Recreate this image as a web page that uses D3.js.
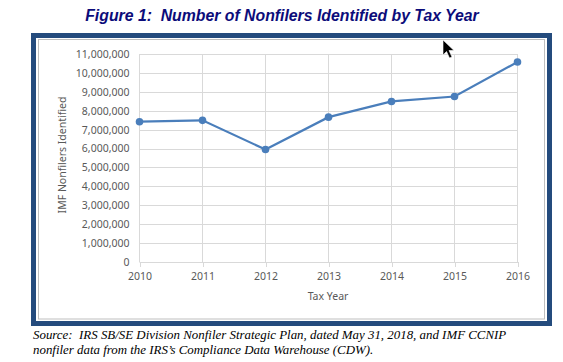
<!DOCTYPE html>
<html>
<head>
<meta charset="utf-8">
<script src="https://cdn.jsdelivr.net/npm/d3@7"></script>
<style>
  html, body { margin: 0; padding: 0; background: #fff; }
  svg { display: block; }
  text { white-space: pre; }
</style>
</head>
<body>
<svg id="chart" width="563" height="362"></svg>
<script>
// data
var years = [2010, 2011, 2012, 2013, 2014, 2015, 2016];
var nonfilers = [7420000, 7490000, 5950000, 7660000, 8490000, 8750000, 10580000];
var yTicks = [0, 1000000, 2000000, 3000000, 4000000, 5000000, 6000000,
              7000000, 8000000, 9000000, 10000000, 11000000];

var svg = d3.select('#chart');
var font = '"Noto Sans", "Open Sans", sans-serif';
var lineBlue = '#4a7ebb', grid = '#d9d9d9', txt = '#595959';

// title
svg.append('text').attr('x', 282).attr('y', 21).attr('text-anchor', 'middle')
  .style('font-family', '"Liberation Sans", Arial, sans-serif')
  .style('font-weight', 'bold').style('font-style', 'italic')
  .style('font-size', '15.8px').attr('fill', '#0c0c7a')
  .text('Figure 1:  Number of Nonfilers Identified by Tax Year');

// frame: thick blue border + thin grey inner line
svg.append('rect').attr('x', 33.5).attr('y', 35.5).attr('width', 516).attr('height', 288)
  .attr('fill', 'none').attr('stroke', '#244b7d').attr('stroke-width', 5);
svg.append('rect').attr('x', 38.5).attr('y', 39.5).attr('width', 506).attr('height', 279.5)
  .attr('fill', 'none').attr('stroke', '#bfbfbf').attr('stroke-width', 1);

var x = d3.scalePoint().domain(years).range([139.5, 517.5]);
var y = d3.scaleLinear().domain([0, 11000000]).range([262, 54]);

var g = svg.append('g');

// horizontal gridlines + y labels
var yAxis = d3.axisLeft(y).tickValues(yTicks).tickSize(-(517.5 - 139.5))
  .tickPadding(10).tickFormat(d3.format(','));
g.append('g').attr('transform', 'translate(139.5,0)').call(yAxis)
  .call(function (a) {
    a.select('.domain').remove();
    a.selectAll('.tick line').attr('stroke', grid).attr('shape-rendering', 'crispEdges');
    a.selectAll('.tick text').attr('fill', txt).style('font-family', font).style('font-size', '10.5px');
  });

// vertical gridlines
g.append('g').selectAll('line').data(years).join('line')
  .attr('x1', function (d) { return x(d); }).attr('x2', function (d) { return x(d); })
  .attr('y1', y(11000000)).attr('y2', y(0))
  .attr('stroke', grid).attr('shape-rendering', 'crispEdges');

// x axis
var xAxis = d3.axisBottom(x).tickSize(5).tickPadding(6);
g.append('g').attr('transform', 'translate(0,' + y(0) + ')').call(xAxis)
  .call(function (a) {
    a.select('.domain').attr('stroke', grid).attr('d', 'M139.5,0.5H517.5');
    a.selectAll('.tick line').attr('stroke', grid).attr('shape-rendering', 'crispEdges');
    a.selectAll('.tick text').attr('fill', txt).style('font-family', font).style('font-size', '10.5px');
  });

// axis titles
svg.append('text').attr('transform', 'translate(66,155) rotate(-90)').attr('text-anchor', 'middle')
  .style('font-family', font).style('font-size', '10.5px').attr('fill', txt)
  .text('IMF Nonfilers Identified');
svg.append('text').attr('x', 328).attr('y', 300).attr('text-anchor', 'middle')
  .style('font-family', font).style('font-size', '10.5px').attr('fill', txt)
  .text('Tax Year');

// series
var pts = years.map(function (d, i) { return [d, nonfilers[i]]; });
g.append('path').datum(pts)
  .attr('d', d3.line().x(function (d) { return x(d[0]); }).y(function (d) { return y(d[1]); }))
  .attr('fill', 'none').attr('stroke', lineBlue).attr('stroke-width', 2.2);
g.append('g').selectAll('circle').data(pts).join('circle')
  .attr('cx', function (d) { return x(d[0]); }).attr('cy', function (d) { return y(d[1]); })
  .attr('r', 3.8).attr('fill', lineBlue);

// mouse cursor captured in the screenshot
svg.append('path')
  .attr('d', 'M443,40 L443,55 L446.5,51.5 L449.5,58 L452,57 L449,50.5 L454,50.5 Z')
  .attr('fill', '#000').attr('stroke', '#fff').attr('stroke-width', 0.6);

// source note
var src = svg.append('text').style('font-family', '"Liberation Serif", "Times New Roman", serif')
  .style('font-style', 'italic').style('font-size', '12.9px').attr('fill', '#000');
src.append('tspan').attr('x', 33).attr('y', 339)
  .text('Source:  IRS SB/SE Division Nonfiler Strategic Plan, dated May 31, 2018, and IMF CCNIP');
src.append('tspan').attr('x', 33).attr('y', 354)
  .text('nonfiler data from the IRS\u2019s Compliance Data Warehouse (CDW).');
</script>
</body>
</html>
